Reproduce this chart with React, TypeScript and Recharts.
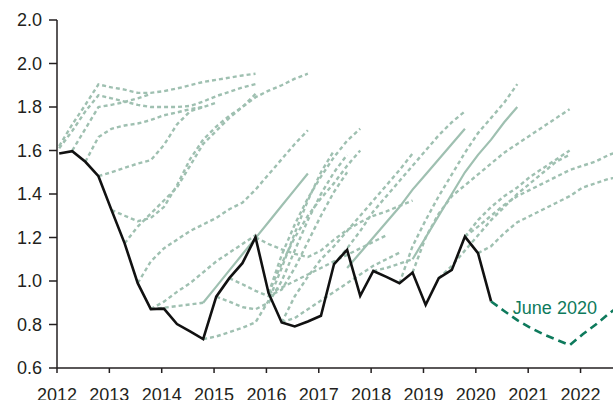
import React from "react";
import { LineChart, Line, XAxis, YAxis, ReferenceDot } from "recharts";

// ---- axes / categories ----
const years = [2012, 2013, 2014, 2015, 2016, 2017, 2018, 2019, 2020, 2021, 2022];
const quarterMonths = [1, 4, 7, 10];
const xTicks = [2012, 2013, 2014, 2015, 2016, 2017, 2018, 2019, 2020, 2021, 2022];
const xTickLabels = ["2012", "2013", "2014", "2015", "2016", "2017", "2018", "2019", "2020", "2021", "2022"];
const yTicks = [0.6, 0.8, 1.0, 1.2, 1.4, 1.6, 1.8, 2.0, 2.2];
const yTickLabels = ["0.6", "0.8", "1.0", "1.2", "1.4", "1.6", "1.8", "2.0", "2.0"];

// ---- actual (quarterly, from 2012Q1) ----
const actual = [1.586, 1.597, 1.548, 1.482, 1.326, 1.173, 0.99, 0.871, 0.873, 0.802, 0.768, 0.733,
  0.928, 1.013, 1.082, 1.201, 0.944, 0.809, 0.791, 0.814, 0.84, 1.078, 1.143, 0.932, 1.046, 1.019,
  0.99, 1.039, 0.89, 1.013, 1.051, 1.204, 1.128, 0.906];

// ---- June 2020 projection (starts at quarter 33) ----
const june2020Start = 33;
const june2020 = [0.906, 0.862, 0.82, 0.785, 0.755, 0.73, 0.705, 0.755, 0.8, 0.85, 0.895];
const june2020Label = "June 2020";

// ---- earlier projections (dashed), each with its starting quarter ----
const fcA = [1.62, 1.72, 1.81, 1.904, 1.89, 1.88, 1.865, 1.865, 1.873, 1.885, 1.9, 1.915, 1.925, 1.935, 1.945, 1.953];
const fcB = [1.61, 1.69, 1.78, 1.854, 1.84, 1.825, 1.81, 1.8, 1.8, 1.8, 1.805, 1.825, 1.85, 1.87, 1.89, 1.905];
const fcC = [1.6, 1.7, 1.8, 1.81, 1.823, 1.84, 1.86];
const fcD = [1.548, 1.662, 1.7, 1.715, 1.724, 1.74, 1.762, 1.775, 1.79, 1.8];
const fcE = [1.482, 1.5, 1.52, 1.54, 1.555, 1.625, 1.72, 1.78, 1.8, 1.82];
const fcF = [1.326, 1.3, 1.275, 1.29, 1.34, 1.44, 1.56, 1.65, 1.71, 1.76, 1.8, 1.845, 1.875, 1.9, 1.93, 1.953];
const fcG = [1.173, 1.25, 1.31, 1.37, 1.43, 1.53, 1.63, 1.69, 1.75, 1.8, 1.86];
const fcH = [0.99, 1.09, 1.15, 1.19, 1.23, 1.26, 1.29, 1.33, 1.36, 1.42, 1.49, 1.56, 1.63, 1.693];
const fcI = [0.871, 0.877, 0.885, 0.892, 0.9];
const fcJ = [0.871, 0.905, 0.95, 0.99, 1.04, 1.09, 1.13, 1.17, 1.21];
const fcK = [0.733, 0.745, 0.765, 0.785, 0.81, 0.91, 1.06, 1.22, 1.37, 1.5, 1.6];
const fcL = [0.928, 0.905, 0.88, 0.87, 0.9, 1.0, 1.14, 1.28, 1.4, 1.5, 1.58];
const fcM = [1.013, 0.985, 0.955, 0.93, 0.96, 1.06, 1.18, 1.3, 1.41, 1.5];
const fcN = [1.201, 1.17, 1.145, 1.125, 1.11, 1.14, 1.19, 1.235, 1.27, 1.3, 1.32, 1.345, 1.37];
const fcO = [0.944, 1.12, 1.26, 1.38, 1.48, 1.57, 1.645, 1.7];
const fcP = [0.944, 1.08, 1.2, 1.3, 1.38, 1.45, 1.53, 1.6];
const fcQ = [0.944, 0.97, 1.0, 1.03, 1.06, 1.09, 1.12, 1.15, 1.18, 1.21];
const fcR = [0.809, 0.83, 0.87, 0.91, 0.95, 0.99, 1.03, 1.07, 1.1, 1.13];
const fcS = [0.809, 0.93, 1.02, 1.1, 1.16, 1.23, 1.3, 1.37, 1.44, 1.51, 1.586];
const fcT = [1.078, 1.15, 1.23, 1.32, 1.39, 1.46, 1.53, 1.6, 1.67, 1.73, 1.78];
const fcU = [1.046, 1.06, 1.08, 1.1];
const fcV = [0.99, 1.16, 1.28, 1.39, 1.49, 1.59, 1.68, 1.75, 1.82, 1.905];
const fcW = [1.039, 1.2, 1.31, 1.39, 1.44, 1.49, 1.54, 1.59, 1.63, 1.67, 1.71, 1.75, 1.79];
const fcX = [1.013, 1.07, 1.14, 1.21, 1.28, 1.34, 1.4, 1.45, 1.5, 1.55, 1.58];
const fcY = [1.204, 1.28, 1.34, 1.39, 1.43, 1.48, 1.52, 1.56, 1.6];
const fcZ = [1.204, 1.25, 1.3, 1.35, 1.39, 1.42, 1.45, 1.48, 1.51, 1.53, 1.55, 1.58, 1.6];
const fcAA = [1.128, 1.16, 1.22, 1.27, 1.3, 1.33, 1.36, 1.39, 1.43, 1.45, 1.47, 1.48];

// ---- earlier projections drawn solid ----
const solid1 = [0.9, 0.974, 1.049, 1.123, 1.197, 1.271, 1.346, 1.42, 1.494];
const solid2 = [1.06, 1.13, 1.2, 1.27, 1.34, 1.42, 1.49, 1.56, 1.63, 1.7];
const solid3 = [1.1, 1.2, 1.3, 1.4, 1.5, 1.58, 1.65, 1.73, 1.8];

const dashedSeries: [number, number[]][] = [
  [0, fcA], [0, fcB], [1, fcC], [2, fcD], [3, fcE], [4, fcF], [5, fcG], [6, fcH], [7, fcI], [7, fcJ],
  [11, fcK], [12, fcL], [13, fcM], [15, fcN], [16, fcO], [16, fcP], [16, fcQ], [17, fcR], [17, fcS],
  [21, fcT], [24, fcU], [26, fcV], [27, fcW], [29, fcX], [31, fcY], [31, fcZ], [32, fcAA],
];
const solidSeries: [number, number[]][] = [[11, solid1], [22, solid2], [27, solid3]];

const quarterToX = (k: number) =>
  years[Math.floor(k / 4)] + (quarterMonths[k % 4] - 0.5) / 12;
const toPoints = (start: number, values: number[]) =>
  values.map((y, i) => ({ x: quarterToX(start + i), y }));

const LIGHT = "#9fc0b1";
const DARK_GREEN = "#0e7a5c";
const INK = "#231f20";
const FONT = "'Liberation Sans', Arial, Helvetica, sans-serif";

export default function App() {
  return (
    <div style={{ position: "absolute", left: 0, top: 0, width: 613, height: 400, background: "#fff" }}>
      <LineChart width={613} height={400} margin={{ top: 20, right: 0, bottom: 0, left: 0 }}>
        <XAxis
          dataKey="x"
          type="number"
          domain={[2012, 2022.62]}
          allowDataOverflow
          ticks={xTicks}
          tickFormatter={(v: number) => xTickLabels[xTicks.indexOf(v)]}
          height={32}
          tickSize={5}
          tickMargin={15}
          axisLine={{ stroke: INK, strokeWidth: 1.5 }}
          tickLine={{ stroke: INK, strokeWidth: 1.5 }}
          tick={{ fill: INK, fontSize: 18, fontFamily: FONT }}
          interval={0}
        />
        <YAxis
          type="number"
          domain={[0.6, 2.2]}
          allowDataOverflow
          ticks={yTicks}
          tickFormatter={(v: number) => yTickLabels[yTicks.findIndex((t) => Math.abs(t - v) < 1e-6)]}
          width={57}
          tickSize={8}
          tickMargin={7}
          axisLine={{ stroke: INK, strokeWidth: 1.5 }}
          tickLine={{ stroke: INK, strokeWidth: 1.5 }}
          tick={{ fill: INK, fontSize: 18, fontFamily: FONT }}
          interval={0}
        />
        {dashedSeries.map(([start, vals], i) => (
          <Line
            key={"d" + i}
            data={toPoints(start, vals)}
            dataKey="y"
            stroke={LIGHT}
            strokeWidth={2.4}
            strokeDasharray="4 3"
            dot={false}
            activeDot={false}
            isAnimationActive={false}
            type="linear"
          />
        ))}
        {solidSeries.map(([start, vals], i) => (
          <Line
            key={"s" + i}
            data={toPoints(start, vals)}
            dataKey="y"
            stroke={LIGHT}
            strokeWidth={2.2}
            dot={false}
            activeDot={false}
            isAnimationActive={false}
            type="linear"
          />
        ))}
        <Line
          data={toPoints(0, actual)}
          dataKey="y"
          stroke="#111111"
          strokeWidth={2.6}
          dot={false}
          activeDot={false}
          isAnimationActive={false}
          type="linear"
        />
        <Line
          data={toPoints(june2020Start, june2020)}
          dataKey="y"
          stroke={DARK_GREEN}
          strokeWidth={2.6}
          strokeDasharray="8 5"
          dot={false}
          activeDot={false}
          isAnimationActive={false}
          type="linear"
        />
        <ReferenceDot
          x={2021.51}
          y={0.877}
          r={0}
          fill="none"
          stroke="none"
          label={{ value: june2020Label, position: "center", fill: DARK_GREEN, fontSize: 18, fontFamily: FONT }}
        />
      </LineChart>
    </div>
  );
}
